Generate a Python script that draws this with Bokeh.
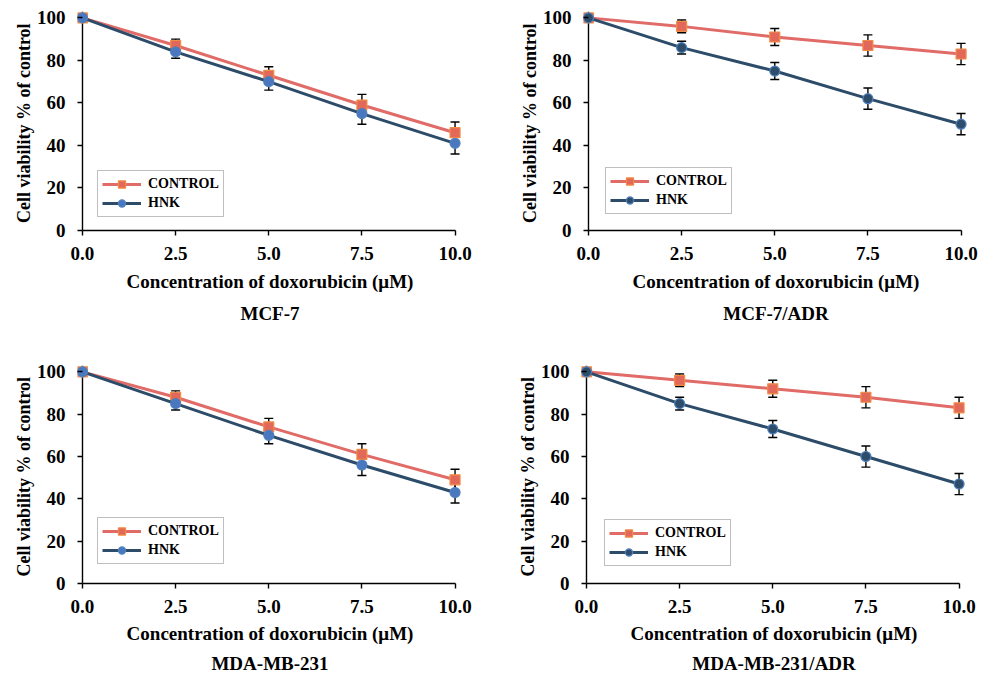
from bokeh.plotting import figure
from bokeh.layouts import column, row
from bokeh.models import (Range1d, FixedTicker, NumeralTickFormatter, Whisker, TeeHead,
                          ColumnDataSource, Title, Legend, LegendItem, Span)
from bokeh.embed import file_html
from bokeh.resources import INLINE

# ---------------- data ----------------
conc = [0.0, 2.5, 5.0, 7.5, 10.0]
x_ticks = [0.0, 2.5, 5.0, 7.5, 10.0]
y_ticks = [0, 20, 40, 60, 80, 100]

panel_names = ["MCF-7", "MCF-7/ADR", "MDA-MB-231", "MDA-MB-231/ADR"]
series_names = ["CONTROL", "HNK"]

mcf7_control = [100, 87, 73, 59, 46]
mcf7_control_err = [0, 3, 4, 5, 5]
mcf7_hnk = [100, 84, 70, 55, 41]
mcf7_hnk_err = [0, 3, 4, 5, 5]

mcf7adr_control = [100, 96, 91, 87, 83]
mcf7adr_control_err = [0, 3, 4, 5, 5]
mcf7adr_hnk = [100, 86, 75, 62, 50]
mcf7adr_hnk_err = [0, 3, 4, 5, 5]

mda_control = [100, 88, 74, 61, 49]
mda_control_err = [0, 3, 4, 5, 5]
mda_hnk = [100, 85, 70, 56, 43]
mda_hnk_err = [0, 3, 4, 5, 5]

mdaadr_control = [100, 96, 92, 88, 83]
mdaadr_control_err = [0, 3, 4, 5, 5]
mdaadr_hnk = [100, 85, 73, 60, 47]
mdaadr_hnk_err = [0, 3, 4, 5, 5]

# ---------------- style ----------------
FONT = "Liberation Serif"
CTRL_LINE = "#E06B67"
CTRL_FILL = "#E2685A"
CTRL_EDGE = "#F28C45"
HNK_LINE = "#2D4C69"
HNK_EDGE = "#4F81BD"


def make_panel(name, ctrl, ctrl_err, hnk, hnk_err, hnk_fill, width, height,
               bl, bt, br, bb, legend_loc, xlab_standoff, title_standoff):
    p = figure(width=width, height=height,
               x_range=Range1d(-0.134, 10.2), y_range=Range1d(0, 103),
               output_backend="svg", toolbar_location=None,
               min_border_left=bl, min_border_top=bt,
               min_border_right=br, min_border_bottom=bb)
    p.outline_line_color = None
    p.grid.visible = False
    p.background_fill_color = "white"
    p.border_fill_color = "white"

    # vertical axis line at x = 0
    p.add_layout(Span(location=0, dimension="height", line_color="black",
                      line_width=1.4, level="underlay"))

    # error bars
    for vals, errs in ((ctrl, ctrl_err), (hnk, hnk_err)):
        xs = [c for c, e in zip(conc, errs) if e > 0]
        up = [v + e for v, e in zip(vals, errs) if e > 0]
        lo = [v - e for v, e in zip(vals, errs) if e > 0]
        src = ColumnDataSource(dict(x=xs, upper=up, lower=lo))
        w = Whisker(source=src, base="x", upper="upper", lower="lower",
                    dimension="height", line_color="black", line_width=1.4,
                    upper_head=TeeHead(size=9, line_color="black", line_width=1.4),
                    lower_head=TeeHead(size=9, line_color="black", line_width=1.4),
                    level="underlay")
        p.add_layout(w)

    lc = p.line(conc, ctrl, line_color=CTRL_LINE, line_width=3)
    sc = p.scatter(conc, ctrl, marker="square", size=10, fill_color=CTRL_FILL,
                   line_color=CTRL_EDGE, line_width=1.2)
    lh = p.line(conc, hnk, line_color=HNK_LINE, line_width=3)
    sh = p.scatter(conc, hnk, marker="circle", size=10, fill_color=hnk_fill,
                   line_color=HNK_EDGE, line_width=1.2)

    legend = Legend(items=[LegendItem(label=series_names[0], renderers=[lc, sc]),
                           LegendItem(label=series_names[1], renderers=[lh, sh])],
                    location=legend_loc, orientation="vertical",
                    padding=4, spacing=1, margin=0,
                    glyph_width=39, glyph_height=18, label_height=18,
                    label_standoff=7,
                    label_text_font=FONT, label_text_font_style="bold",
                    label_text_font_size="14px", label_text_color="black",
                    border_line_color="#808080", border_line_width=1.5,
                    background_fill_color="white", background_fill_alpha=1.0)
    p.add_layout(legend, "center")

    # axes
    xa = p.xaxis[0]
    xa.ticker = FixedTicker(ticks=x_ticks)
    xa.formatter = NumeralTickFormatter(format="0.0")
    xa.bounds = (0, 10)
    xa.axis_label = "Concentration of doxorubicin (\u03bcM)"
    ya = p.yaxis[0]
    ya.ticker = FixedTicker(ticks=y_ticks)
    ya.axis_label = "Cell viability  % of control"
    for ax in (xa, ya):
        ax.major_tick_line_color = "black"
        ax.major_tick_line_width = 1.4
        ax.minor_tick_line_color = None
        ax.major_label_text_font = FONT
        ax.major_label_text_font_style = "bold"
        ax.major_label_text_font_size = "19px"
        ax.major_label_text_color = "black"
        ax.axis_label_text_font = FONT
        ax.axis_label_text_font_style = "bold"
        ax.axis_label_text_color = "black"
    xa.axis_line_color = "black"
    xa.axis_line_width = 1.4
    xa.major_tick_in = 0
    xa.major_tick_out = 5
    ya.axis_line_color = None
    ya.major_tick_in = 5
    ya.major_tick_out = 0
    xa.axis_label_text_font_size = "19px"
    ya.axis_label_text_font_size = "18px"
    xa.major_label_standoff = 11
    xa.axis_label_standoff = xlab_standoff
    ya.major_label_standoff = 12
    ya.axis_label_standoff = 0

    t = Title(text=name, align="center", text_font=FONT, text_font_style="bold",
              text_font_size="19px", text_color="black", standoff=title_standoff)
    p.add_layout(t, "below")
    return p


LEFT_DARK = "#4A78C0"
RIGHT_DARK = "#2E4D6B"

H_T, H_B = 354, 324

p1 = make_panel(panel_names[0], mcf7_control, mcf7_control_err, mcf7_hnk, mcf7_hnk_err,
                LEFT_DARK, 506, H_T, 77, 11, 44, 124, (20, 13), 8, 12)
p2 = make_panel(panel_names[1], mcf7adr_control, mcf7adr_control_err, mcf7adr_hnk,
                mcf7adr_hnk_err, RIGHT_DARK, 474, H_T, 77, 11, 12, 124, (22, 16), 8, 12)
p3 = make_panel(panel_names[2], mda_control, mda_control_err, mda_hnk, mda_hnk_err,
                LEFT_DARK, 504, H_B, 77, 11, 42, 94, (20, 19), 7, 9)
p4 = make_panel(panel_names[3], mdaadr_control, mdaadr_control_err, mdaadr_hnk,
                mdaadr_hnk_err, RIGHT_DARK, 476, H_B, 77, 11, 14, 94, (23, 17), 7, 9)

layout = column(row(p1, p2), row(p3, p4))
open("out.html", "w").write(file_html(layout, INLINE))
